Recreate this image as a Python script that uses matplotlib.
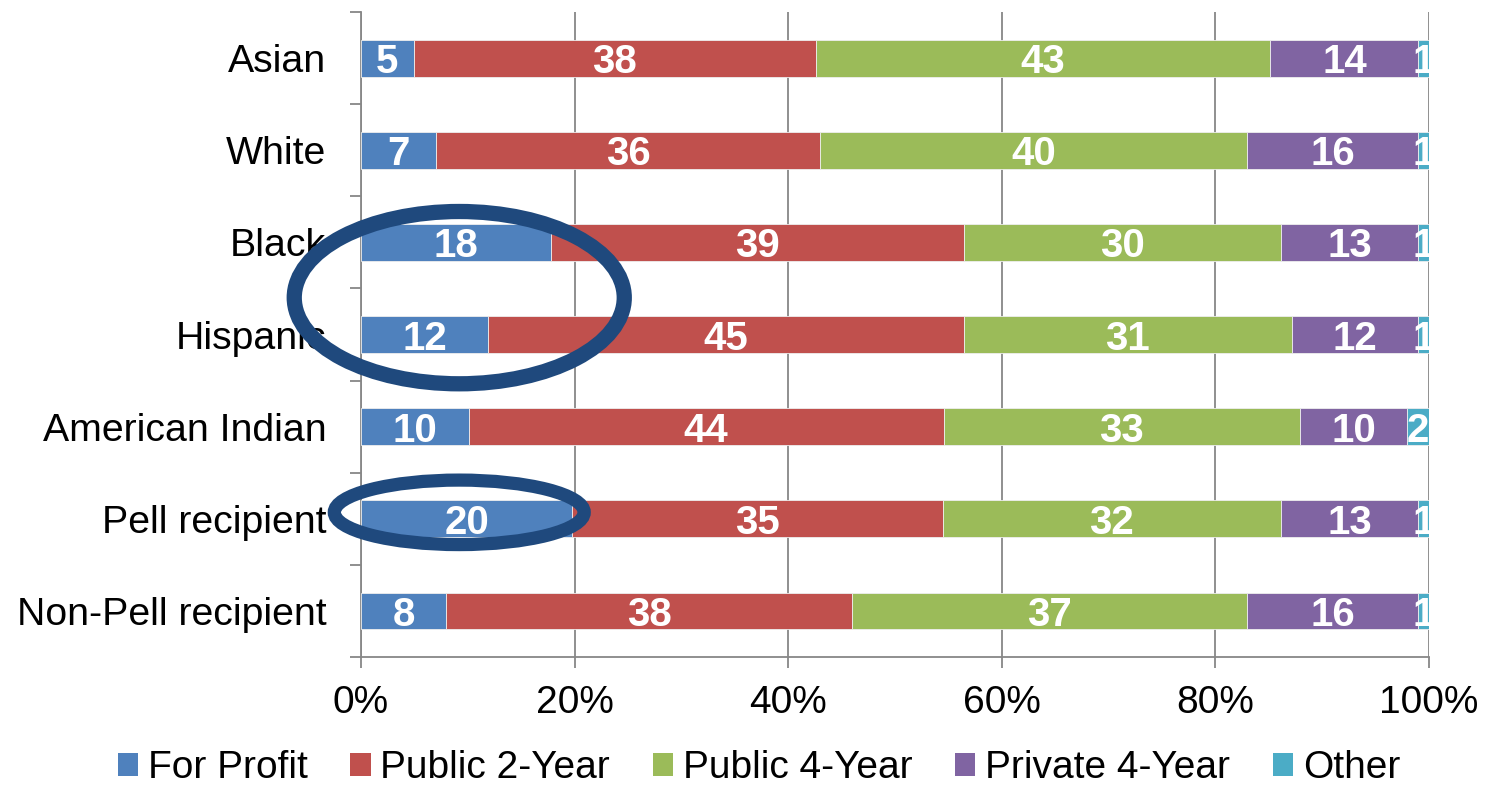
import numpy as np
import matplotlib
matplotlib.use('Agg')
import matplotlib.pyplot as plt
from matplotlib.patches import Patch, Ellipse

plt.rcParams['font.family'] = ['Liberation Sans', 'DejaVu Sans']

# Datos (porcentajes por tipo de institucion)
grupos = ['Asian', 'White', 'Black', 'Hispanic', 'American Indian',
          'Pell recipient', 'Non-Pell recipient']
series = ['For Profit', 'Public 2-Year', 'Public 4-Year', 'Private 4-Year', 'Other']
for_profit = [5, 7, 18, 12, 10, 20, 8]
public_2 = [38, 36, 39, 45, 44, 35, 38]
public_4 = [43, 40, 30, 31, 33, 32, 37]
private_4 = [14, 16, 13, 12, 10, 13, 16]
other = [1, 1, 1, 1, 2, 1, 1]
colores = ['#4F81BD', '#C0504D', '#9BBB59', '#8064A2', '#4BACC6']

valores = np.array([for_profit, public_2, public_4, private_4, other], dtype=float)
# 100% apilado: normalizar cada fila
porc = valores / valores.sum(axis=0) * 100

fig = plt.figure(figsize=(14.88, 7.87), dpi=100)
ax = fig.add_axes([361 / 1488, 1 - 657 / 787, 1068 / 1488, 645 / 787])

y = np.arange(len(grupos))
izq = np.zeros(len(grupos))
for k in range(len(series)):
    ax.barh(y, porc[k], left=izq, height=0.4, color=colores[k],
            edgecolor='#EEEEEE', linewidth=0.6, zorder=3)
    for i in range(len(grupos)):
        ax.text(izq[i] + porc[k][i] / 2, i, str(int(valores[k][i])),
                ha='center', va='center_baseline', color='white',
                fontsize=29, fontweight='bold', clip_on=True, zorder=4)
    izq = izq + porc[k]

ax.set_xlim(0, 100)
ax.set_ylim(len(grupos) - 0.5, -0.5)

# Ejes y rejilla
gris = '#878787'
ax.set_xticks(np.arange(0, 101, 20))
ax.set_xticklabels([f'{v}%' for v in range(0, 101, 20)])
ax.xaxis.grid(True, color=gris, linewidth=1.3, zorder=0)
ax.set_axisbelow(True)
ax.set_yticks(y)
ax.set_yticklabels(grupos)
ax.set_yticks(np.arange(-0.5, len(grupos)), minor=True)
ax.tick_params(axis='y', which='major', length=0, pad=25, labelsize=28.3)
ax.tick_params(axis='y', which='minor', length=8, width=1.3, color=gris)
ax.tick_params(axis='x', length=8, width=1.3, color=gris, pad=12, labelsize=28)
for s in ['top', 'right']:
    ax.spines[s].set_visible(False)
for s in ['left', 'bottom']:
    ax.spines[s].set_color(gris)
    ax.spines[s].set_linewidth(1.3)

# Elipses de resaltado
azul = '#1F497D'
ax.add_patch(Ellipse((9.2, 2.6), 30.9, 1.87, fill=False, edgecolor=azul,
                     linewidth=11, clip_on=False, zorder=6))
ax.add_patch(Ellipse((9.2, 4.93), 23.4, 0.7, fill=False, edgecolor=azul,
                     linewidth=9.5, clip_on=False, zorder=6))

# Leyenda
handles = [Patch(facecolor=c) for c in colores]
fig.legend(handles, series, loc='center', bbox_to_anchor=(759 / 1488, 1 - 768 / 787),
           ncol=5, frameon=False, fontsize=28, handlelength=0.52, handleheight=0.52,
           handletextpad=0.25, columnspacing=1.1, borderaxespad=0)

plt.savefig('out.png', dpi=100)
